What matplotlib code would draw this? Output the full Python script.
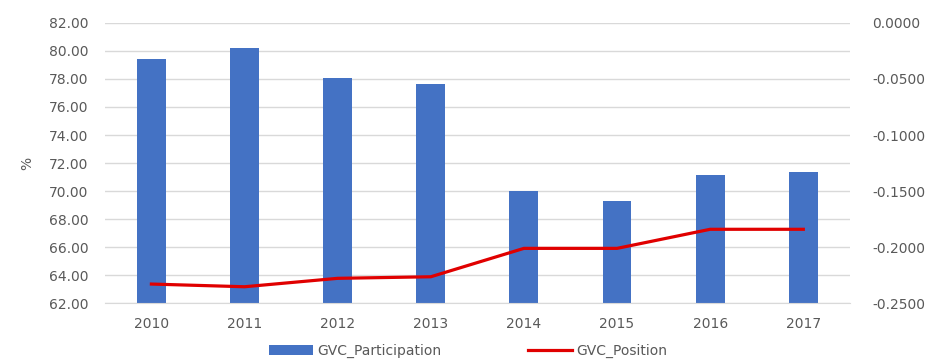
import matplotlib.pyplot as plt
import numpy as np

years = ["2010", "2011", "2012", "2013", "2014", "2015", "2016", "2017"]
participation = [79.39, 80.22, 78.06, 77.63, 70.03, 69.31, 71.14, 71.36]
position = [-0.2328, -0.2352, -0.2277, -0.2263, -0.2010, -0.2010, -0.1840, -0.1840]

plt.rcParams['font.family'] = ['DejaVu Sans']
txt = '#595959'
fs = 10

fig = plt.figure(figsize=(9.36, 3.62), dpi=100)
ax = fig.add_axes([0.112, 0.162, 0.796, 0.775])
x = np.arange(len(years))

ax.bar(x, participation, width=0.31, color='#4472C4', label='GVC_Participation', zorder=2)
ax.set_ylim(62, 82)
lticks = np.arange(62, 82.1, 2)
ax.set_yticks(lticks)
ax.set_yticklabels([f"{v:.2f}" for v in lticks])
ax.set_xlim(-0.5, len(years) - 0.5)
ax.set_xticks(x)
ax.set_xticklabels(years)
ax.grid(axis='y', color='#d9d9d9', linewidth=1, zorder=0)
ax.set_axisbelow(True)
for s in ['top', 'right', 'left']:
    ax.spines[s].set_visible(False)
ax.spines['bottom'].set_color('#d9d9d9')
ax.tick_params(axis='y', length=0, colors=txt, labelsize=fs, pad=12)
ax.tick_params(axis='x', length=0, colors=txt, labelsize=fs, pad=10)
ax.set_ylabel('%', color=txt, fontsize=fs, labelpad=10)

ax2 = ax.twinx()
ax2.plot(x, position, color='#e00000', linewidth=2.3, label='GVC_Position', zorder=3)
ax2.set_ylim(-0.25, 0)
rticks = [-0.25, -0.20, -0.15, -0.10, -0.05, 0.0]
ax2.set_yticks(rticks)
ax2.set_yticklabels(["-0.2500", "-0.2000", "-0.1500", "-0.1000", "-0.0500", "0.0000"])
for s in ax2.spines.values():
    s.set_visible(False)
ax2.tick_params(length=0, colors=txt, labelsize=fs, pad=16)

h1, l1 = ax.get_legend_handles_labels()
h2, l2 = ax2.get_legend_handles_labels()
fig.legend(h1 + h2, l1 + l2, loc='center', bbox_to_anchor=(0.5, 0.03), ncol=2,
           frameon=False, fontsize=fs, labelcolor=txt, handlelength=3.2,
           columnspacing=6.2, handletextpad=0.3)

fig.savefig('out.png', dpi=100)
